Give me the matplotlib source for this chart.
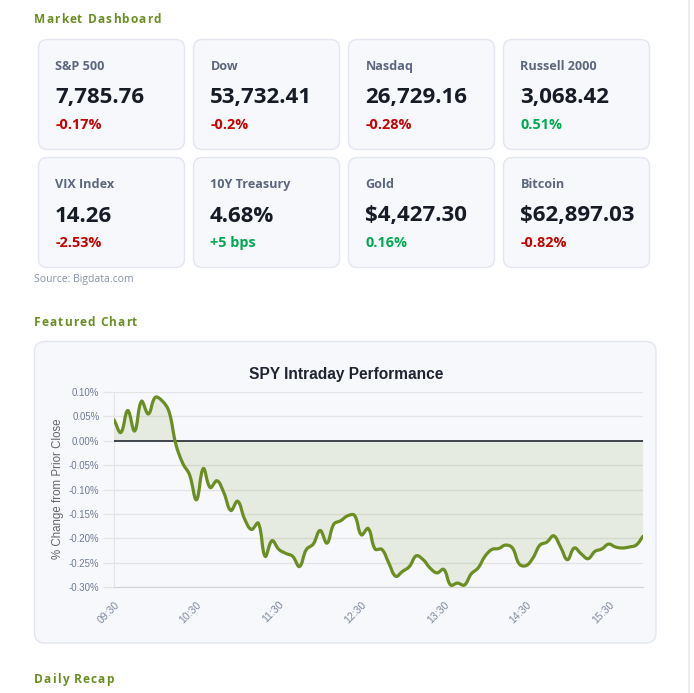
import numpy as np
import pandas as pd
import matplotlib
matplotlib.use('Agg')
import matplotlib.pyplot as plt
from matplotlib.patches import FancyBboxPatch, PathPatch
from matplotlib.path import Path

# ---- data ----
card_names = ['S&P 500', 'Dow', 'Nasdaq', 'Russell 2000',
              'VIX Index', '10Y Treasury', 'Gold', 'Bitcoin']
card_values = ['7,785.76', '53,732.41', '26,729.16', '3,068.42',
               '14.26', '4.68%', '$4,427.30', '$62,897.03']
card_changes = ['-0.17%', '-0.2%', '-0.28%', '0.51%',
                '-2.53%', '+5 bps', '0.16%', '-0.82%']
card_up = [False, False, False, True, False, True, True, False]

spy_pct = [0.043, 0.017, 0.062, 0.020, 0.081, 0.055, 0.089, 0.082, 0.060, -0.007,
           -0.046, -0.070, -0.121, -0.057, -0.096, -0.082, -0.107, -0.143, -0.124, -0.160,
           -0.182, -0.169, -0.237, -0.205, -0.223, -0.231, -0.237, -0.258, -0.223, -0.212,
           -0.184, -0.210, -0.171, -0.164, -0.154, -0.153, -0.193, -0.180, -0.222, -0.223,
           -0.251, -0.278, -0.268, -0.258, -0.236, -0.244, -0.261, -0.271, -0.264, -0.296,
           -0.292, -0.296, -0.273, -0.261, -0.237, -0.223, -0.221, -0.214, -0.220, -0.253,
           -0.256, -0.240, -0.214, -0.208, -0.195, -0.218, -0.244, -0.220, -0.232, -0.242,
           -0.227, -0.222, -0.212, -0.218, -0.220, -0.218, -0.214, -0.196]
times = pd.date_range('09:30', periods=len(spy_pct), freq='5min').strftime('%H:%M').tolist()
y_ticks = [0.10, 0.05, 0.00, -0.05, -0.10, -0.15, -0.20, -0.25, -0.30]

GREEN_HEAD = '#6b8e23'
CARD_BG = '#f7f8fc'
CARD_EDGE = '#e3e6ee'
UI = ['Open Sans', 'DejaVu Sans']
CH = ['Liberation Sans', 'DejaVu Sans']

W, H = 694, 693
fig = plt.figure(figsize=(W / 100, H / 100), dpi=100, facecolor='white')
bg = fig.add_axes([0, 0, 1, 1])
bg.set_xlim(0, W)
bg.set_ylim(H, 0)
bg.axis('off')
renderer = fig.canvas.get_renderer()


def width_of(s, **kw):
    t = bg.text(0, 0, s + '|', **kw)
    t2 = bg.text(0, 0, '|', **kw)
    w = t.get_window_extent(renderer).width - t2.get_window_extent(renderer).width
    t.remove()
    t2.remove()
    return w


def spaced(x, y, s, spacing, **kw):
    # letter-spaced heading, drawn one character at a time
    for i, ch in enumerate(s):
        bg.text(x + width_of(s[:i], **kw) + i * spacing, y, ch, va='baseline', ha='left', **kw)


head_kw = dict(family=UI, fontsize=8.6, fontweight='bold', color=GREEN_HEAD)
spaced(34, 23.3, 'Market Dashboard', 1.05, **head_kw)
spaced(34, 325.7, 'Featured Chart', 1.05, **head_kw)
spaced(34, 683.3, 'Daily Recap', 1.05, **head_kw)

# ---- cards ----
lefts = [38.5, 193.5, 348.5, 503.5]
tops = [39.5, 157.5]
cw, chh = 146, 110
for k, name in enumerate(card_names):
    x0 = lefts[k % 4]
    y0 = tops[k // 4]
    bg.add_patch(FancyBboxPatch((x0, y0), cw, chh, boxstyle='round,pad=0,rounding_size=9',
                                facecolor=CARD_BG, edgecolor=CARD_EDGE, linewidth=1.0))
    bg.text(x0 + 17, y0 + 30.3, name, family=UI, fontsize=9.1, fontweight='bold',
            color='#5c677d', va='baseline')
    bg.text(x0 + 16.5, y0 + 64, card_values[k], family=UI, fontsize=16, fontweight='bold',
            color='#161b26', va='baseline')
    bg.text(x0 + 17, y0 + 89.6, card_changes[k], family=UI, fontsize=10.4, fontweight='bold',
            color='#00a94f' if card_up[k] else '#c40000', va='baseline')

bg.text(34, 282, 'Source: Bigdata.com', family=UI, fontsize=7.5, color='#8a93a6', va='baseline')

# chart panel
bg.add_patch(FancyBboxPatch((34.5, 341.5), 621.5, 301.5, boxstyle='round,pad=0,rounding_size=10',
                            facecolor=CARD_BG, edgecolor=CARD_EDGE, linewidth=1.0))
bg.text(346, 379.3, 'SPY Intraday Performance', family=CH, fontsize=11.2, fontweight='bold',
        color='#1f2430', ha='center', va='baseline')
bg.text(58, 489, '% Change from Prior Close', family=CH, fontsize=8.3, color='#666666',
        rotation=90, ha='center', va='center')
bg.axvline(689.5, color='#ececec', linewidth=1.5)

# ---- line chart ----
pl, pr, pt, pb = 114, 643, 392, 587
ax = fig.add_axes([pl / W, 1 - pb / H, (pr - pl) / W, (pb - pt) / H])
ax.set_facecolor('none')
x = np.arange(len(spy_pct))
y = np.array(spy_pct)
ax.set_xlim(0, len(spy_pct) - 1)
ax.set_ylim(-0.30, 0.10)

for v in y_ticks:
    if v == 0:
        continue
    ax.axhline(v, color='#e4e4e4', linewidth=1.0, zorder=0)
ax.axhline(0, color='#222630', linewidth=1.2, zorder=3)

# smooth curve through the points (Chart.js-style cubic with tension)
pts = ax.transData.transform(np.column_stack([x, y]))
tension = 0.4
n = len(pts)
verts = [pts[0]]
codes = [Path.MOVETO]
cps_prev, cps_next = [], []
for i in range(n):
    p0 = pts[max(i - 1, 0)]
    p1 = pts[i]
    p2 = pts[min(i + 1, n - 1)]
    d01 = np.hypot(*(p1 - p0))
    d12 = np.hypot(*(p2 - p1))
    tot = d01 + d12 if d01 + d12 > 0 else 1
    fa = tension * d01 / tot
    fb = tension * d12 / tot
    cps_prev.append(p1 - fa * (p2 - p0))
    cps_next.append(p1 + fb * (p2 - p0))
for i in range(1, n):
    verts += [cps_next[i - 1], cps_prev[i], pts[i]]
    codes += [Path.CURVE4] * 3
inv = ax.transData.inverted()
curve_verts = inv.transform(np.array(verts))
line_path = Path(curve_verts, codes)
fill_path = Path(np.vstack([curve_verts, [[x[-1], 0], [x[0], 0], curve_verts[0]]]),
                 codes + [Path.LINETO, Path.LINETO, Path.CLOSEPOLY])
ax.add_patch(PathPatch(fill_path, facecolor=GREEN_HEAD, alpha=0.12, edgecolor='none', zorder=1))
ax.add_patch(PathPatch(line_path, facecolor='none', edgecolor='#6b8e23', linewidth=2.3,
                       capstyle='round', joinstyle='round', zorder=4))

ax.set_yticks(y_ticks)
ax.set_yticklabels([f'{v:.2f}%' for v in y_ticks], family=CH, fontsize=6.9, color='#6e7a91')
ax.tick_params(axis='y', length=8, width=1.0, color='#e4e4e4', pad=2.5)
ax.set_xticks(x[::12])
ax.set_xticklabels(times[::12], family=CH, fontsize=7.6, color='#7d889c',
                   rotation=45, ha='right', va='top', rotation_mode='anchor')
ax.tick_params(axis='x', length=0, pad=9)
for s in ['top', 'right']:
    ax.spines[s].set_visible(False)
ax.spines['left'].set_color('#e4e4e4')
ax.spines['bottom'].set_color('#d2d2d2')

fig.savefig('out.png', dpi=100, facecolor='white')
